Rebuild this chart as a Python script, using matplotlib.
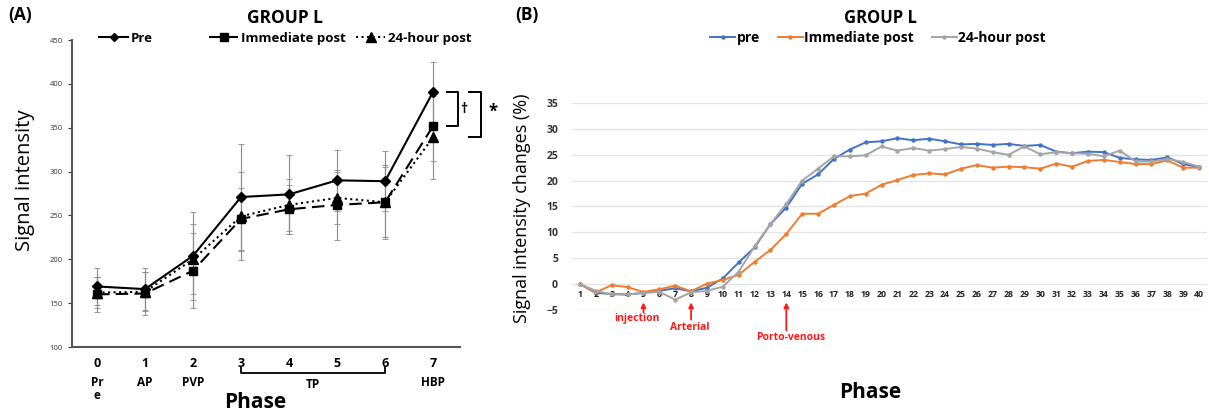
import matplotlib
matplotlib.use("Agg")
import matplotlib.pyplot as plt
from matplotlib.lines import Line2D

plt.rcParams['font.family'] = ['Open Sans', 'DejaVu Sans']

# ---- panel A data ----
phases_a = [0, 1, 2, 3, 4, 5, 6, 7]
phase_names = ["Pr\ne", "AP", "PVP", "", "", "", "", "HBP"]
pre_a = [169, 166, 204, 271, 274, 290, 289, 391]
imm_a = [160, 161, 187, 246, 257, 262, 265, 352]
h24_a = [162, 163, 200, 249, 262, 270, 265, 339]
pre_err = [21, 24, 50, 61, 45, 35, 34, 34]
imm_err = [20, 25, 43, 35, 28, 40, 40, 40]
h24_err = [18, 22, 40, 50, 30, 30, 42, 47]

# ---- panel B data ----
frames = list(range(1, 41))
pre_b = [0, -1.7, -1.9, -2.0, -1.7, -1.3, -0.8, -1.4, -0.7, 1.1,
         4.2, 7.1, 11.6, 14.8, 19.4, 21.2, 24.2, 26.0, 27.4, 27.6,
         28.2, 27.8, 28.1, 27.6, 27.0, 27.1, 26.9, 27.1, 26.7, 26.9,
         25.6, 25.3, 25.6, 25.5, 24.4, 24.1, 24.0, 24.5, 23.2, 22.6]
imm_b = [0, -1.6, -0.2, -0.6, -1.5, -1.0, -0.3, -1.4, 0.1, 0.8,
         1.8, 4.3, 6.6, 9.7, 13.6, 13.6, 15.3, 17.0, 17.5, 19.2,
         20.1, 21.1, 21.4, 21.2, 22.3, 23.0, 22.5, 22.7, 22.6, 22.3,
         23.3, 22.7, 23.8, 24.0, 23.6, 23.2, 23.2, 23.9, 22.5, 22.5]
h24_b = [0, -1.3, -2.0, -2.0, -1.7, -1.5, -3.0, -1.6, -1.3, -0.5,
         2.4, 7.3, 11.6, 15.5, 20.0, 22.3, 24.7, 24.7, 24.9, 26.6,
         25.8, 26.3, 25.8, 26.1, 26.5, 26.2, 25.5, 25.0, 26.6, 25.1,
         25.5, 25.3, 25.2, 24.7, 25.8, 23.7, 23.7, 24.2, 23.6, 22.7]
events = [("injection", 5, -6.6), ("Arterial", 8, -8.3), ("Porto-venous", 14, -10.4)]

W, H = 1209, 415
fig = plt.figure(figsize=(W / 100, H / 100), dpi=100)


def px_axes(l, t, r, b):
    return fig.add_axes([l / W, 1 - b / H, (r - l) / W, (b - t) / H])


# ================= panel A =================
ax = px_axes(72, 40, 460, 347)
styles = [
    (pre_a, pre_err, "-", "D", 5, "Pre"),
    (imm_a, imm_err, (0, (6, 3)), "s", 6, "Immediate post"),
    (h24_a, h24_err, ":", "^", 7, "24-hour post"),
]
handles = []
for vals, err, ls, mk, ms, lab in styles:
    ax.errorbar(phases_a, vals, yerr=err, fmt="none", ecolor="#8a8a8a",
                elinewidth=0.8, capsize=2, capthick=0.6, zorder=1)
    ax.plot(phases_a, vals, color="black", linestyle=ls, linewidth=1.5,
            marker=mk, markersize=ms, zorder=3)
    handles.append(Line2D([], [], color="black", linestyle=ls, linewidth=1.5,
                          marker=mk, markersize=ms - 0.5, label=lab))

ax.set_xlim(-0.52, 7.56)
ax.set_ylim(100, 450)
ax.set_yticks(range(100, 451, 50))
ax.tick_params(axis="y", labelsize=5.5, length=3, width=0.8, colors="#333333")
ax.tick_params(axis="x", length=0, labelsize=9, pad=7)
ax.set_xticks(phases_a)
ax.set_xticklabels([str(p) for p in phases_a], fontweight="bold")
for s in ["top", "right"]:
    ax.spines[s].set_visible(False)
for s in ["left", "bottom"]:
    ax.spines[s].set_color("#555555")
    ax.spines[s].set_linewidth(1.5)

tr = ax.get_xaxis_transform()
for p, nm in zip(phases_a, phase_names):
    if nm:
        ax.text(p, -0.095, nm, transform=tr, ha="center", va="top", fontsize=8.5,
                fontweight="bold", linespacing=1.0)
ax.plot([3, 3, 6, 6], [-0.065, -0.085, -0.085, -0.065], transform=tr,
        color="black", linewidth=1.3, clip_on=False)
ax.text(4.5, -0.1, "TP", transform=tr, ha="center", va="top", fontsize=8.5,
        fontweight="bold")

# significance brackets
ax.plot([7.29, 7.52, 7.52, 7.29], [pre_a[7], pre_a[7], imm_a[7], imm_a[7]],
        color="black", linewidth=1.4, clip_on=False)
ax.text(7.64, (pre_a[7] + imm_a[7]) / 2, "\u2020", fontsize=10, fontweight="bold",
        ha="center", va="center")
ax.plot([7.75, 8.0, 8.0, 7.75], [pre_a[7], pre_a[7], h24_a[7], h24_a[7]],
        color="black", linewidth=1.4, clip_on=False)
ax.text(8.24, 368, "*", fontsize=12, fontweight="bold", ha="center", va="center")

leg1 = ax.legend(handles=handles[:1], loc="center left", bbox_to_anchor=(0.04, 1.005),
                 frameon=False, handlelength=2.2, handletextpad=0.2,
                 prop={"weight": "bold", "size": 9.5})
ax.add_artist(leg1)
ax.legend(handles=handles[1:], loc="center right", bbox_to_anchor=(1.06, 1.005),
          ncol=2, frameon=False, handlelength=2.2, handletextpad=0.2,
          columnspacing=0.8, prop={"weight": "bold", "size": 9.5})

fig.text(25 / W, 1 - 180 / H, "Signal intensity", rotation=90, ha="center",
         va="center", fontsize=14.5)
fig.text(255 / W, 1 - 402 / H, "Phase", ha="center", va="center", fontsize=15,
         fontweight="bold")
fig.text(8 / W, 1 - 15 / H, "(A)", ha="left", va="center", fontsize=12.5,
         fontweight="bold")
fig.text(285 / W, 1 - 18 / H, "GROUP L", ha="center", va="center", fontsize=12.5,
         fontweight="bold")

# ================= panel B =================
bx = px_axes(572, 103, 1207, 310)
colors = ["#4472C4", "#ED7D31", "#A5A5A5"]
series_b = [(pre_b, "pre"), (imm_b, "Immediate post"), (h24_b, "24-hour post")]
for i in [2, 1, 0]:
    vals, lab = series_b[i]
    bx.plot(frames, vals, color=colors[i], linewidth=1.4, marker="o",
            markersize=2.2, label=lab, zorder=3 + i)

bx.set_xlim(0.5, 40.5)
bx.set_ylim(-5, 35)
bx.set_yticks(range(-5, 36, 5))
bx.grid(axis="y", color="#e3e3e3", linewidth=0.9)
bx.set_axisbelow(True)
for s in bx.spines.values():
    s.set_visible(False)
bx.tick_params(axis="y", length=0, labelsize=7.5, colors="#333333", pad=10)
for lbl in bx.get_yticklabels():
    lbl.set_fontweight("bold")
bx.set_xticks([])
for f in frames:
    bx.text(f, -2.1, str(f), ha="center", va="center", fontsize=6.3,
            fontweight="bold", color="#222222")

for name, f, ty in events:
    start = -6.0 if name == "injection" else ty + 0.9
    bx.annotate("", xy=(f, -3.0), xytext=(f, start),
                arrowprops=dict(arrowstyle="-|>", color="#ff1a1a", lw=1.3,
                                mutation_scale=7),
                annotation_clip=False)
    dx = {"injection": -0.4, "Arterial": -0.1, "Porto-venous": 0.3}[name]
    bx.text(f + dx, ty, name, ha="center", va="center", color="#ff1a1a",
            fontsize=7.5, fontweight="bold", clip_on=False)

h, l = bx.get_legend_handles_labels()
hd = dict(zip(l, h))
fig.legend([hd["pre"], hd["Immediate post"], hd["24-hour post"]],
           ["pre", "Immediate post", "24-hour post"], loc="center",
           bbox_to_anchor=(878 / W, 1 - 38 / H), ncol=3, frameon=False,
           handlelength=1.8, handletextpad=0.1, columnspacing=1.3,
           prop={"weight": "bold", "size": 10})

fig.text(522 / W, 1 - 208 / H, "Signal intensity changes (%)", rotation=90,
         ha="center", va="center", fontsize=13)
fig.text(870 / W, 1 - 392 / H, "Phase", ha="center", va="center", fontsize=15,
         fontweight="bold")
fig.text(515 / W, 1 - 15 / H, "(B)", ha="left", va="center", fontsize=12.5,
         fontweight="bold")
fig.text(880 / W, 1 - 18 / H, "GROUP L", ha="center", va="center", fontsize=12,
         fontweight="bold")

fig.savefig("out.png", dpi=100)
